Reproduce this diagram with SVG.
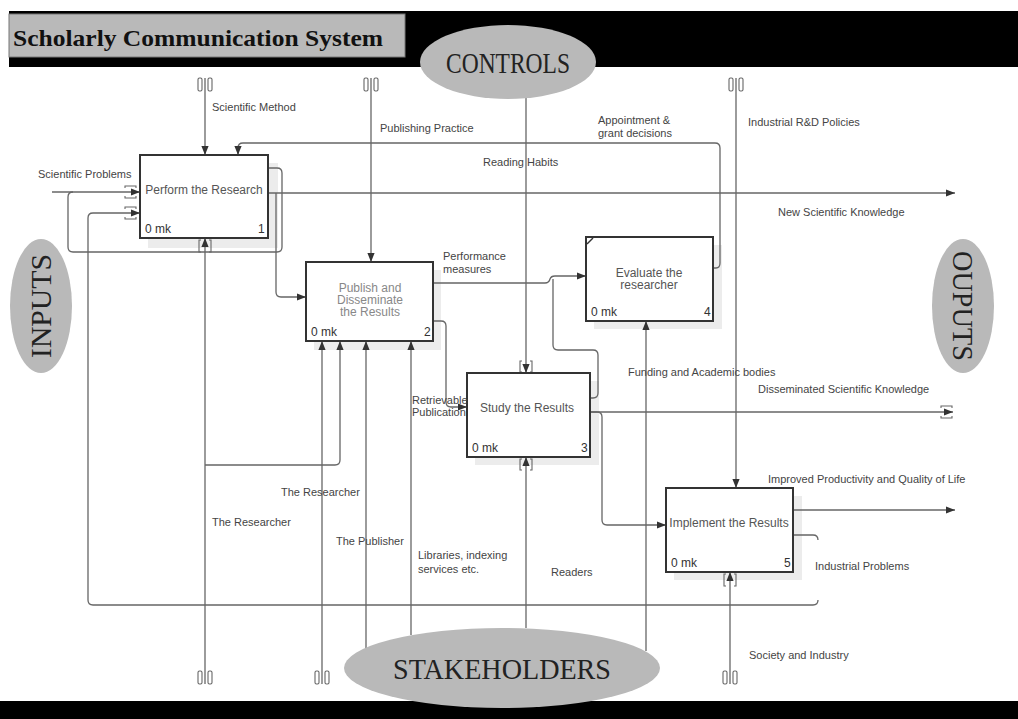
<svg xmlns="http://www.w3.org/2000/svg" width="1018" height="719" viewBox="0 0 1018 719">
<defs>
<marker id="ah" viewBox="0 0 10 10" refX="10" refY="5" markerWidth="9" markerHeight="9" orient="auto" markerUnits="userSpaceOnUse"><path d="M0,1 L10,5 L0,9 z" fill="#333"/></marker>
<style>
.ln{fill:none;stroke:#666;stroke-width:1.3}
.ar{marker-end:url(#ah)}
.tm{fill:none;stroke:#666;stroke-width:1.1}
.box{fill:#fff;stroke:#333;stroke-width:2}
.sh{fill:#ececec}
.bt{font-family:"Liberation Sans",Arial,sans-serif;font-size:12px;fill:#555;text-anchor:middle}
.bt2{font-family:"Liberation Sans",Arial,sans-serif;font-size:12px;fill:#888;text-anchor:middle}
.mk{font-family:"Liberation Sans",Arial,sans-serif;font-size:12px;fill:#333}
.lb{font-family:"Liberation Sans",Arial,sans-serif;font-size:11px;fill:#444}
.big{font-family:"Liberation Serif","Times New Roman",serif;fill:#222;text-anchor:middle}
.ell{fill:#b9b9b9}
</style>
</defs>
<rect width="1018" height="719" fill="#fff"/>
<rect x="9" y="11" width="1009" height="56" fill="#000"/>
<rect x="9" y="14" width="396" height="43" fill="#b9b9b9" stroke="#777" stroke-width="1"/>
<text x="13" y="46" font-family="'Liberation Serif','Times New Roman',serif" font-weight="bold" font-size="24" fill="#111" textLength="370" lengthAdjust="spacingAndGlyphs">Scholarly Communication System</text>
<rect x="0" y="701" width="1018" height="18" fill="#000"/>

<g id="shadows">
<rect class="sh" x="148" y="163" width="130" height="85"/>
<rect class="sh" x="314" y="270" width="127" height="80"/>
<rect class="sh" x="475" y="381" width="124" height="84"/>
<rect class="sh" x="594" y="245" width="128" height="84"/>
<rect class="sh" x="674" y="496" width="128" height="84"/>
</g>

<g id="connectors">
<path class="ln ar" d="M205,78 V155"/>
<path class="ln ar" d="M713,268 H716 Q720,268 720,263 V148 Q720,143 715,143 H243 Q238,143 238,148 V155"/>
<path class="ln ar" d="M371,78 V262"/>
<path class="ln ar" d="M526,98 V373"/>
<path class="ln ar" d="M736,78 V488"/>
<path class="ln ar" d="M52,192 H140"/>
<path class="ln" d="M268,168 H277 Q282,168 282,173 V247 Q282,252 277,252 H73 Q68,252 68,247 V197 Q68,192 73,192"/>
<path class="ln ar" d="M268,193 H955"/>
<path class="ln ar" d="M276,193 V292 Q276,297 281,297 H306"/>
<path class="ln" d="M793,535 H813 Q818,535 818,540"/>
<path class="ln ar" d="M818,600 Q818,605 813,605 H93 Q88,605 88,600 V218 Q88,213 93,213 H140"/>
<path class="ln ar" d="M205,684 V238"/>
<path class="ln ar" d="M205,465 H335 Q340,465 340,460 V341"/>
<path class="ln ar" d="M322,684 V341"/>
<path class="ln ar" d="M366,648 V341"/>
<path class="ln ar" d="M411,635 V341"/>
<path class="ln ar" d="M433,283 H545 Q549,283 550,279 Q551,276 555,276 H586"/>
<path class="ln" d="M590,398 H593 Q598,398 598,393 V355 Q598,350 593,350 H558 Q553,350 553,345 V279"/>
<path class="ln ar" d="M433,321 H441 Q446,321 446,326 V402 Q446,407 451,407 H467"/>
<path class="ln ar" d="M590,412 H953"/>
<path class="ln ar" d="M590,412 H597 Q602,412 602,417 V520 Q602,525 607,525 H666"/>
<path class="ln ar" d="M793,510 H955"/>
<path class="ln ar" d="M526,628 V457"/>
<path class="ln ar" d="M646,651 V321"/>
<path class="ln ar" d="M730,684 V572"/>
<g class="tm">
<rect x="198" y="78" width="4" height="13" rx="1.5"/><rect x="208" y="78" width="4" height="13" rx="1.5"/>
<rect x="364" y="78" width="4" height="13" rx="1.5"/><rect x="374" y="78" width="4" height="13" rx="1.5"/>
<rect x="729" y="78" width="4" height="13" rx="1.5"/><rect x="739" y="78" width="4" height="13" rx="1.5"/>
<rect x="198" y="671" width="4" height="13" rx="1.5"/><rect x="208" y="671" width="4" height="13" rx="1.5"/>
<rect x="315" y="671" width="4" height="13" rx="1.5"/><rect x="325" y="671" width="4" height="13" rx="1.5"/>
<rect x="723" y="671" width="4" height="13" rx="1.5"/><rect x="733" y="671" width="4" height="13" rx="1.5"/>
<path d="M201,240 h-2 v12 h2 M209,240 h2 v12 h-2"/>
<path d="M522,361 h-2 v11 h2 M530,361 h2 v11 h-2"/>
<path d="M522,459 h-2 v11 h2 M530,459 h2 v11 h-2"/>
<path d="M726,574 h-2 v12 h2 M734,574 h2 v12 h-2"/>
<path d="M125,188 v-2 h11 v2 M125,196 v2 h11 v-2"/>
<path d="M125,209 v-2 h11 v2 M125,217 v2 h11 v-2"/>
<path d="M941,408 v-2 h11 v2 M941,416 v2 h11 v-2"/>
</g>
</g>

<g id="controls"><ellipse class="ell" cx="508" cy="62" rx="88" ry="37"/><text class="big" x="508" y="73" font-size="30" textLength="124" lengthAdjust="spacingAndGlyphs">CONTROLS</text></g>
<g id="inputs"><ellipse class="ell" cx="41" cy="306" rx="31" ry="67"/><text class="big" x="41" y="316" font-size="30" transform="rotate(-90 41 306)" textLength="104" lengthAdjust="spacingAndGlyphs">INPUTS</text></g>
<g id="outputs"><ellipse class="ell" cx="963" cy="306" rx="31" ry="67"/><text class="big" x="963" y="316" font-size="30" transform="rotate(90 963 306)" textLength="110" lengthAdjust="spacingAndGlyphs">OUPUTS</text></g>
<g id="stakeholders"><ellipse class="ell" cx="502" cy="668" rx="158" ry="40"/><text class="big" x="502" y="679" font-size="30" textLength="218" lengthAdjust="spacingAndGlyphs">STAKEHOLDERS</text></g>

<g id="box1"><rect class="box" x="140" y="155" width="128" height="83"/><text class="bt" x="204" y="194">Perform the Research</text><text class="mk" x="145" y="233">0 mk</text><text class="mk" x="258" y="233">1</text></g>
<g id="box2"><rect class="box" x="306" y="262" width="127" height="79"/><text class="bt2" x="370" y="292">Publish and</text><text class="bt2" x="370" y="304">Disseminate</text><text class="bt2" x="370" y="316">the Results</text><text class="mk" x="311" y="336">0 mk</text><text class="mk" x="424" y="336">2</text></g>
<g id="box3"><rect class="box" x="467" y="373" width="123" height="84"/><text class="bt" x="527" y="412">Study the Results</text><text class="mk" x="472" y="452">0 mk</text><text class="mk" x="581" y="452">3</text></g>
<g id="box4"><rect class="box" x="586" y="237" width="127" height="84"/><path d="M587,244 L593,238" stroke="#333" stroke-width="1.5"/><text class="bt" x="649" y="277">Evaluate the</text><text class="bt" x="649" y="289">researcher</text><text class="mk" x="591" y="316">0 mk</text><text class="mk" x="704" y="316">4</text></g>
<g id="box5"><rect class="box" x="666" y="488" width="127" height="84"/><text class="bt" x="729" y="527">Implement the Results</text><text class="mk" x="671" y="567">0 mk</text><text class="mk" x="784" y="567">5</text></g>

<g id="labels">
<text class="lb" x="212" y="111">Scientific Method</text>
<text class="lb" x="380" y="132">Publishing Practice</text>
<text class="lb" x="598" y="124">Appointment &amp;</text>
<text class="lb" x="598" y="137">grant decisions</text>
<text class="lb" x="748" y="126">Industrial R&amp;D Policies</text>
<text class="lb" x="483" y="166">Reading Habits</text>
<text class="lb" x="38" y="178">Scientific Problems</text>
<text class="lb" x="778" y="216">New Scientific Knowledge</text>
<text class="lb" x="443" y="260">Performance</text>
<text class="lb" x="443" y="273">measures</text>
<text class="lb" x="628" y="376">Funding and Academic bodies</text>
<text class="lb" x="758" y="393">Disseminated Scientific Knowledge</text>
<text class="lb" x="412" y="404">Retrievable</text>
<text class="lb" x="412" y="416">Publication</text>
<text class="lb" x="768" y="483">Improved Productivity and Quality of Life</text>
<text class="lb" x="281" y="496">The Researcher</text>
<text class="lb" x="212" y="526">The Researcher</text>
<text class="lb" x="336" y="545">The Publisher</text>
<text class="lb" x="418" y="559">Libraries, indexing</text>
<text class="lb" x="418" y="573">services etc.</text>
<text class="lb" x="551" y="576">Readers</text>
<text class="lb" x="815" y="570">Industrial Problems</text>
<text class="lb" x="749" y="659">Society and Industry</text>
</g>
</svg>
